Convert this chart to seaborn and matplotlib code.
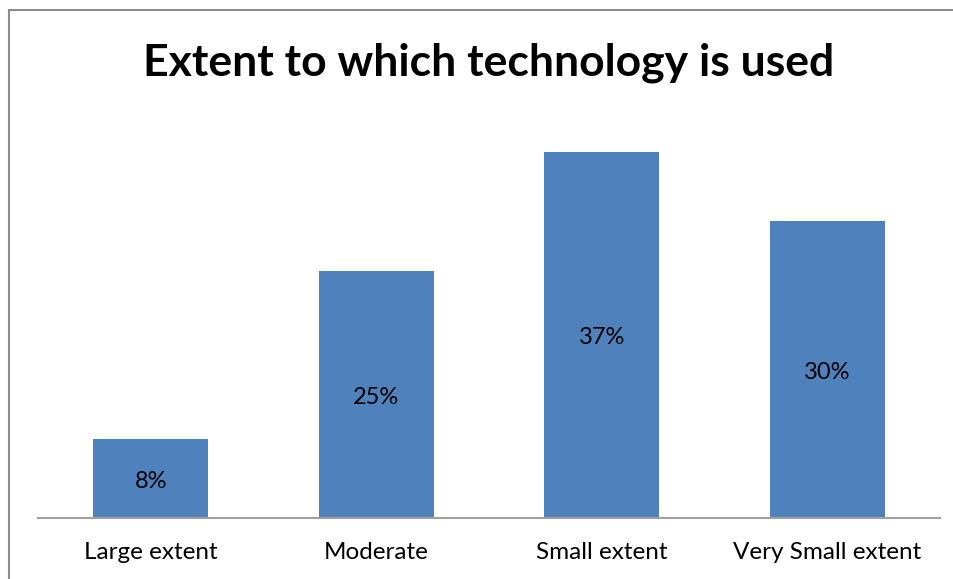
import matplotlib
matplotlib.use("Agg")
import matplotlib.pyplot as plt
import seaborn as sns
import pandas as pd
from matplotlib.patches import Rectangle

categories = ["Large extent", "Moderate", "Small extent", "Very Small extent"]
values = [8, 25, 37, 30]
value_labels = ["8%", "25%", "37%", "30%"]

sns.set_style("white")
plt.rcParams["font.family"] = ["Lato", "DejaVu Sans"]

df = pd.DataFrame({"category": categories, "value": values})

fig = plt.figure(figsize=(9.54, 5.79), dpi=100)
W, H = 954, 579
ax = fig.add_axes([38 / W, 1 - 518 / H, (940 - 38) / W, (518 - 122) / H])

sns.barplot(data=df, x="category", y="value", color="#4f81bd", saturation=1,
            width=0.51, ax=ax, edgecolor="#4f81bd", linewidth=0)

ax.set_ylim(0, 40)
ax.set_xlim(-0.5, 3.5)
ax.set_xlabel("")
ax.set_ylabel("")
ax.set_yticks([])
ax.tick_params(axis="x", length=0, pad=17, labelsize=17.5, labelcolor="black")
for side in ["left", "right", "top"]:
    ax.spines[side].set_visible(False)
ax.spines["bottom"].set_color("#a0a0a0")
ax.spines["bottom"].set_linewidth(1.5)

for i, (v, lab) in enumerate(zip(values, value_labels)):
    ax.annotate(lab, (i, v / 2), xytext=(0, -2), textcoords="offset points",
                ha="center", va="center", fontsize=17, color="black")

fig.text(489 / W, 1 - 63 / H, "Extent to which technology is used",
         ha="center", va="center", fontsize=32, fontweight="bold", color="black")

# outer chart frame
fig.patches.append(Rectangle((9.5 / W, -0.05), 1.1, 1 - 9.5 / H + 0.05,
                             transform=fig.transFigure, fill=False,
                             edgecolor="#8c8c8c", linewidth=1.5))

fig.savefig("out.png", dpi=100)
